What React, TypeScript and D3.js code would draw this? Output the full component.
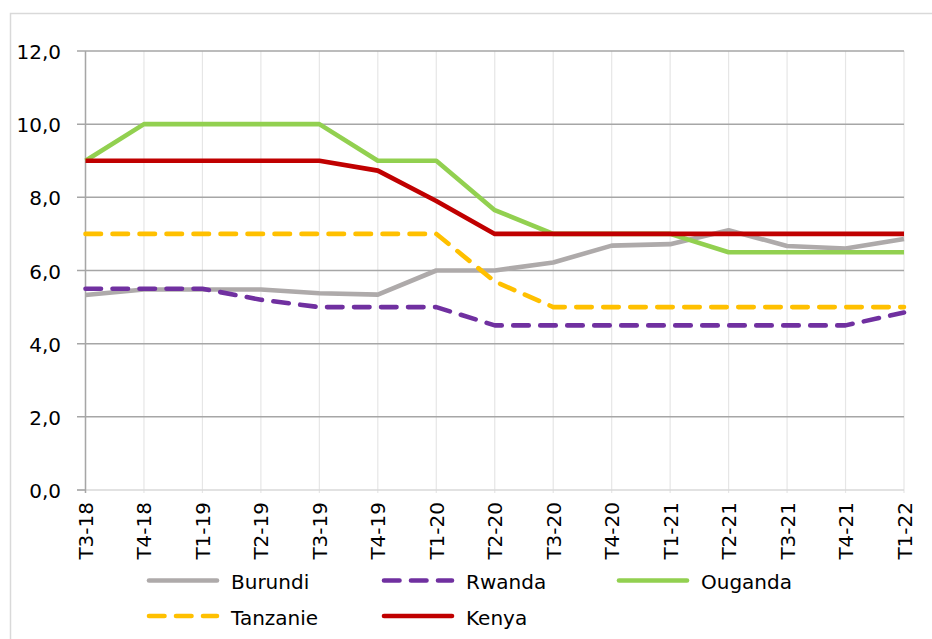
import React from "react";
import * as d3 from "d3";

const categories = ["T3-18","T4-18","T1-19","T2-19","T3-19","T4-19","T1-20","T2-20","T3-20","T4-20","T1-21","T2-21","T3-21","T4-21","T1-22"];
const burundi = [5.33, 5.48, 5.48, 5.48, 5.38, 5.34, 6.0, 6.0, 6.22, 6.68, 6.72, 7.1, 6.67, 6.6, 6.86];
const rwanda = [5.5, 5.5, 5.5, 5.2, 5.0, 5.0, 5.0, 4.5, 4.5, 4.5, 4.5, 4.5, 4.5, 4.5, 4.85];
const ouganda = [9.0, 10.0, 10.0, 10.0, 10.0, 9.0, 9.0, 7.65, 7.0, 7.0, 7.0, 6.5, 6.5, 6.5, 6.5];
const tanzanie = [7.0, 7.0, 7.0, 7.0, 7.0, 7.0, 7.0, 5.7, 5.0, 5.0, 5.0, 5.0, 5.0, 5.0, 5.0];
const kenya = [9.0, 9.0, 9.0, 9.0, 9.0, 8.73, 7.9, 7.0, 7.0, 7.0, 7.0, 7.0, 7.0, 7.0, 7.0];
const yTicks = [0, 2, 4, 6, 8, 10, 12];

const seriesList = [
  { name: "Burundi", values: burundi, color: "#AEAAAA", dashed: false },
  { name: "Rwanda", values: rwanda, color: "#7030A0", dashed: true },
  { name: "Ouganda", values: ouganda, color: "#92D050", dashed: false },
  { name: "Tanzanie", values: tanzanie, color: "#FFC000", dashed: true },
  { name: "Kenya", values: kenya, color: "#C00000", dashed: false },
];
const drawOrder = ["Burundi", "Rwanda", "Ouganda", "Tanzanie", "Kenya"];

export default function App() {
  const W = 932, H = 639;
  const left = 85.5, right = 904, top = 51, bottom = 490;
  const x = d3.scalePoint<string>().domain(categories).range([left, right]);
  const y = d3.scaleLinear().domain([0, 12]).range([bottom, top]);
  const line = (vals: number[]) =>
    d3.line<number>().x((_, i) => x(categories[i]) as number).y((v) => y(v))(vals) as string;
  const font = "'DejaVu Sans', sans-serif";
  const dash = "15.5 11.5";

  return (
    <svg width={W} height={H} style={{ position: "absolute", left: 0, top: 0, background: "#fff" }} fontFamily={font}>
      <rect x={10.5} y={13.5} width={940} height={700} fill="#fff" stroke="#D9D9D9" strokeWidth={1.5} />
      {/* vertical gridlines */}
      {categories.map((c) => (
        <line key={"vg" + c} x1={x(c)} x2={x(c)} y1={top} y2={bottom + 3} stroke="#E6E6E6" strokeWidth={1.2} />
      ))}
      {/* horizontal gridlines */}
      {yTicks.map((t) => (
        <line key={"hg" + t} x1={77} x2={right} y1={y(t)} y2={y(t)} stroke={t === 0 ? "#D9D9D9" : "#A6A6A6"} strokeWidth={1.5} />
      ))}
      <line x1={77} x2={left} y1={bottom} y2={bottom} stroke="#A6A6A6" strokeWidth={1.5} />
      <line x1={left} x2={left} y1={top} y2={bottom + 3} stroke="#A6A6A6" strokeWidth={1.5} />
      {yTicks.map((t) => (
        <text key={"yl" + t} x={61} y={y(t) + 8} textAnchor="end" fontSize={20} fill="#000">
          {d3.format(".1f")(t).replace(".", ",")}
        </text>
      ))}
      {categories.map((c) => (
        <text key={"xl" + c} transform={`translate(${(x(c) as number) + 7.5},${502}) rotate(-90)`} textAnchor="end" fontSize={20} fill="#000">
          {c}
        </text>
      ))}
      {drawOrder.map((n) => {
        const s = seriesList.find((d) => d.name === n)!;
        return (
          <path key={"s" + n} d={line(s.values)} fill="none" stroke={s.color} strokeWidth={4.6}
            strokeLinejoin="round" strokeLinecap={s.dashed ? "round" : "butt"} strokeDasharray={s.dashed ? dash : undefined} />
        );
      })}
      {seriesList.map((s, i) => {
        const row = Math.floor(i / 3), col = i % 3;
        const lx = 149 + col * 235;
        const ly = row === 0 ? 580.5 : 616;
        return (
          <g key={"lg" + s.name}>
            <line x1={lx} x2={lx + 68} y1={ly} y2={ly} stroke={s.color} strokeWidth={4.6} strokeLinecap="round"
              strokeDasharray={s.dashed ? dash : undefined} />
            <text x={lx + 82} y={ly + 8.5} fontSize={20} fill="#000">{s.name}</text>
          </g>
        );
      })}
    </svg>
  );
}
